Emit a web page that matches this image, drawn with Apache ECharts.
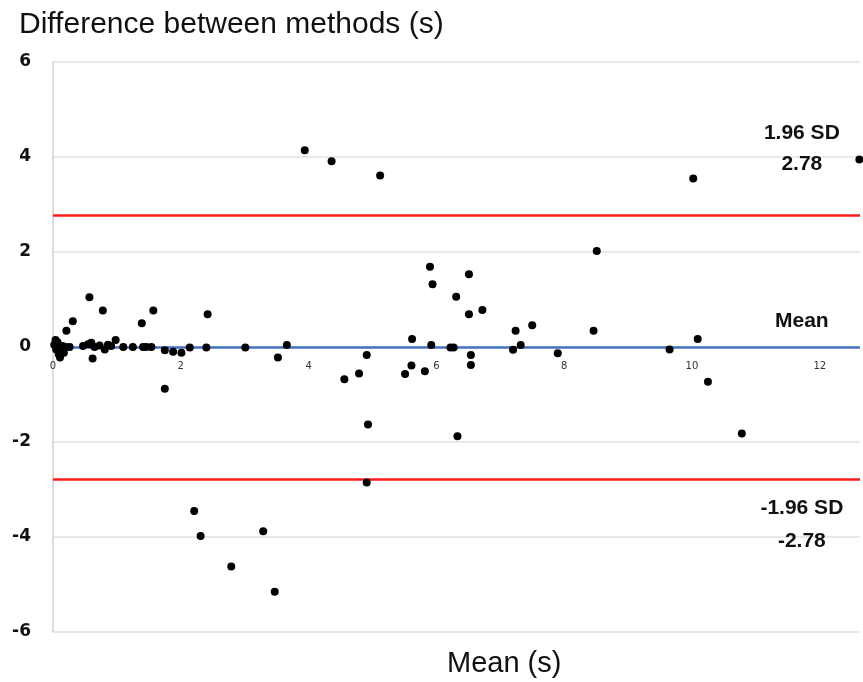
<!DOCTYPE html>
<html>
<head>
<meta charset="utf-8">
<script src="https://cdn.jsdelivr.net/npm/echarts@6/dist/echarts.min.js"></script>
<style>
  html, body { margin: 0; padding: 0; background: #fff; }
  #main { width: 863px; height: 682px; }
</style>
</head>
<body>
<div id="main"></div>
<script>
// mean of the two methods (s)
var meanVals = [
  0.02, 0.04, 0.05, 0.07, 0.09, 0.11, 0.13, 0.15, 0.17, 0.20, 0.26, 0.08,
  0.21, 0.31, 0.57, 0.78, 0.47, 0.55, 0.60, 0.65, 0.73, 0.81, 0.86, 0.91, 0.62, 0.98,
  1.10, 1.25, 1.39, 1.41, 1.46, 1.54, 1.57, 1.75, 1.75, 1.88, 2.01, 2.14, 2.40, 2.42,
  2.21, 2.31, 2.79, 3.01, 3.29, 3.47, 3.52, 3.66,
  3.94, 4.36, 5.12, 4.56, 4.79, 4.91, 4.93, 4.91,
  5.51, 5.61, 5.62, 5.82, 5.90, 5.94, 5.92, 6.22, 6.27, 6.31, 6.33, 6.51, 6.51, 6.54, 6.54, 6.72,
  7.20, 7.24, 7.32, 7.50, 7.90, 8.46, 8.51, 9.65, 10.02, 10.09, 10.25, 10.78, 12.62
];
// difference between methods (s)
var diffVals = [
  0.05, 0.15, -0.05, 0.10, -0.15, -0.22, -0.08, 0.02, -0.12, 0.00, 0.00, -0.02,
  0.34, 0.54, 1.05, 0.77, 0.02, 0.06, 0.09, 0.00, 0.03, -0.05, 0.05, 0.02, -0.24, 0.15,
  0.00, 0.00, 0.50, 0.00, 0.00, 0.00, 0.77, -0.07, -0.88, -0.10, -0.12, -0.01, -0.01, 0.69,
  -3.45, -3.98, -4.62, -0.01, -3.88, -5.15, -0.22, 0.04,
  4.14, 3.91, 3.61, -0.68, -0.56, -0.17, -1.63, -2.85,
  -0.57, -0.39, 0.17, -0.51, 1.69, 1.32, 0.04, -0.01, -0.01, 1.06, -1.88, 1.53, 0.69, -0.17, -0.38, 0.78,
  -0.06, 0.34, 0.04, 0.46, -0.13, 0.34, 2.02, -0.05, 3.55, 0.17, -0.73, -1.82, 3.95
];
var meanDiff = 0;
var upperLoA = 2.78;
var lowerLoA = -2.78;
var yTicks = [-6, -4, -2, 0, 2, 4, 6];
var xTicks = [0, 2, 4, 6, 8, 10, 12];

var points = [];
for (var i = 0; i < meanVals.length; i++) {
  points.push([meanVals[i], diffVals[i]]);
}

var chart = echarts.init(document.getElementById('main'));

var option = {
  animation: false,
  title: [
    {
      text: 'Difference between methods (s)',
      left: 14, top: 5,
      textStyle: { fontFamily: 'Liberation Sans', fontSize: 30, fontWeight: 'normal', color: '#111' }
    },
    {
      text: 'Mean (s)',
      left: 442, top: 644,
      textStyle: { fontFamily: 'Liberation Sans', fontSize: 29, fontWeight: 'normal', color: '#111' }
    }
  ],
  grid: { left: 53, right: 0, top: 62, bottom: 50 },
  xAxis: {
    type: 'value',
    min: 0,
    max: 12.63,
    interval: 2,
    axisLine: { onZero: false, lineStyle: { color: '#d9d9d9' } },
    axisTick: { show: false },
    splitLine: { show: false },
    axisLabel: {
      margin: 14,
      fontSize: 10,
      color: '#333',
      fontFamily: 'DejaVu Sans',
      formatter: function (v) { return xTicks.indexOf(v) >= 0 ? String(v) : ''; }
    }
  },
  yAxis: {
    type: 'value',
    min: -6,
    max: 6,
    interval: 2,
    axisLine: { show: true, lineStyle: { color: '#d0d0d0', width: 1.5 } },
    axisTick: { show: false },
    splitLine: { lineStyle: { color: '#e2e2e2', width: 1.5 } },
    axisLabel: {
      margin: 22,
      fontSize: 17,
      fontWeight: 'bold',
      color: '#111',
      fontFamily: 'DejaVu Sans',
      formatter: function (v) { return yTicks.indexOf(v) >= 0 ? String(v) : ''; }
    }
  },
  series: [{
    type: 'scatter',
    data: points,
    symbolSize: 8,
    clip: false,
    itemStyle: { color: '#000', opacity: 1 },
    z: 5,
    markLine: {
      silent: true,
      symbol: 'none',
      label: { show: false },
      data: [
        { yAxis: upperLoA, lineStyle: { color: '#ff1a1a', width: 2.5, type: 'solid' } },
        { yAxis: lowerLoA, lineStyle: { color: '#ff1a1a', width: 2.5, type: 'solid' } },
        { yAxis: meanDiff, lineStyle: { color: '#4472c4', width: 2.5, type: 'solid' } }
      ]
    }
  }]
};
chart.setOption(option);

// move the x axis up so it crosses at y = 0
var yZero = chart.convertToPixel({ yAxisIndex: 0 }, 0);
var yBottom = chart.convertToPixel({ yAxisIndex: 0 }, yTicks[0]);

// annotation labels placed through the axes
var labelStyle = { fontFamily: 'Liberation Sans', fontSize: 21, fontWeight: 'bold', fill: '#111', align: 'center', verticalAlign: 'middle' };
var notes = [
  ['1.96 SD', 11.72, 4.50],
  [String(upperLoA), 11.72, 3.84],
  ['Mean', 11.72, 0.55],
  ['-1.96 SD', 11.72, -3.40],
  [String(lowerLoA), 11.72, -4.08]
];
var graphics = notes.map(function (n) {
  var p = chart.convertToPixel({ gridIndex: 0 }, [n[1], n[2]]);
  return {
    type: 'text',
    x: p[0], y: p[1],
    z: 10,
    style: Object.assign({ text: n[0] }, labelStyle)
  };
});
chart.setOption({ xAxis: { offset: yZero - yBottom }, graphic: graphics });
</script>
</body>
</html>
